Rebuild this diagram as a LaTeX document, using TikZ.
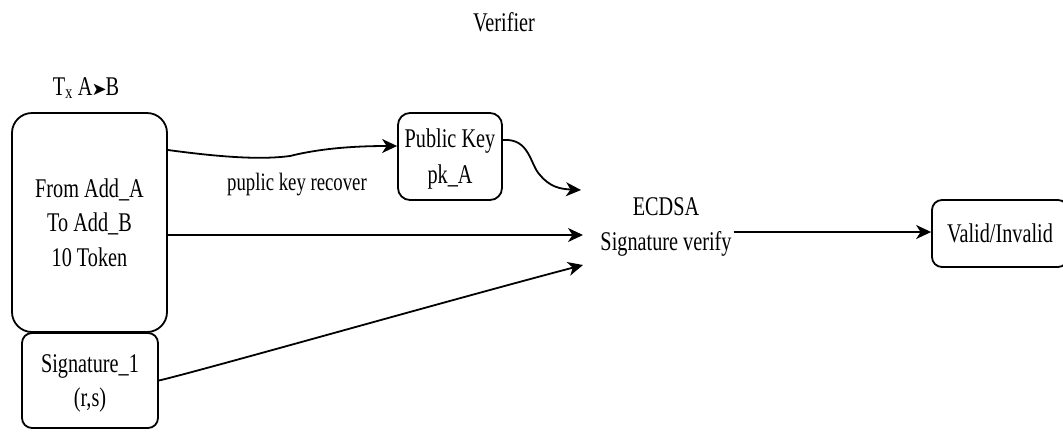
\documentclass[tikz,border=0pt]{standalone}
\usepackage{fontspec}
\setmainfont[FakeStretch=0.75]{Liberation Serif}
\newfontfamily\symfont{DejaVu Sans}
\usetikzlibrary{arrows.meta}
\newcommand\diafont{\fontsize{27}{34.5}\selectfont}
\newcommand\lblfont{\fontsize{25}{30}\selectfont}
\begin{document}
\begin{tikzpicture}[x=1pt,y=-1pt,
  box/.style={draw, line width=1.8pt, rounded corners=#1, align=center,
    inner sep=0pt, text depth=0pt, font=\diafont},
  plain/.style={align=center, inner sep=0pt, text depth=0pt, font=\diafont},
  arr/.style={line width=1.8pt, -{Stealth[length=15pt,width=14pt,inset=4.5pt]}}]
\useasboundingbox (0,0) rectangle (1063,432);
\clip (0,0) rectangle (1063,432);

% titles
\node[plain, anchor=base] (verifier) at (504,31) {Verifier};
\node[plain, anchor=base] (txlabel) at (86,95)
  {T\textsubscript{x} A\kern-1pt{\symfont\fontsize{18}{18}\selectfont ➤}\kern-1pt B};

% boxes
\node[box=20, minimum width=155pt, minimum height=219pt] (tx) at (89.5,222.5)
  {From Add\_A\\To Add\_B\\10 Token};
\node[box=10, minimum width=136pt, minimum height=95pt] (sig) at (90,380.5)
  {Signature\_1\\(r,s)};
\node[box=12, minimum width=104pt, minimum height=87pt] (pk) at (450,156.5)
  {Public Key\\[1.5pt]pk\_A};
\node[plain] (ecdsa) at (666,224) {ECDSA\\Signature verify};
\node[box=10, minimum width=136pt, minimum height=67pt] (res) at (1000,233.5)
  {Valid/Invalid};

% label
\node[plain, font=\lblfont, anchor=base] (lbl) at (297,190) {puplic key recover};

% arrow ends at the verifier
\coordinate (e1) at (581,190);
\coordinate (e2) at (583,235);
\coordinate (e3) at (583,265);

% connectors
\draw[arr] ([yshift=72.5pt]tx.east) .. controls (220,157) and (260,160) .. (290,156)
  .. controls (310,151) and (340,146) .. ([yshift=10.5pt]pk.west);
\draw[arr] ([yshift=16.5pt]pk.east) .. controls (530,138) and (530,165) .. (540,175)
  .. controls (550,187) and (560,189) .. (e1);
\draw[arr] ([yshift=-12.5pt]tx.east) -- (e2);
\draw[arr] (sig.east) .. controls (200,371) and (450,300) .. (e3);
\draw[arr] ([xshift=2pt,yshift=-8pt]ecdsa.east) -- ([yshift=1.5pt]res.west);
\end{tikzpicture}
\end{document}
